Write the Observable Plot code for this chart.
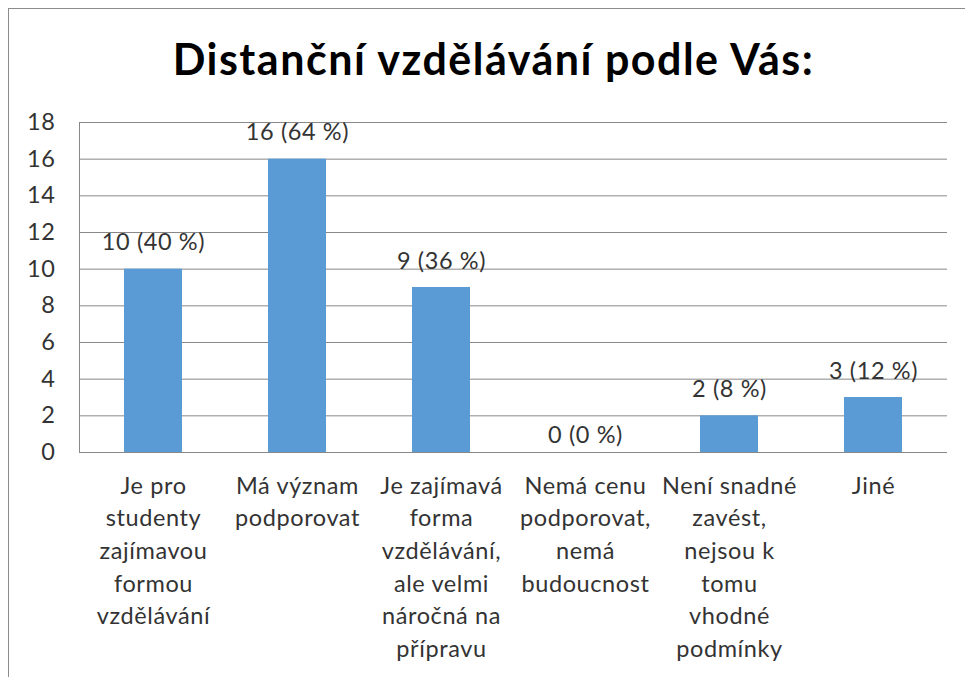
<!DOCTYPE html>
<html>
<head>
<meta charset="utf-8">
<script src="https://cdn.jsdelivr.net/npm/d3@7"></script>
<script src="https://cdn.jsdelivr.net/npm/@observablehq/plot@0.6"></script>
<style>
  body { margin: 0; background: #fff; }
  #wrap { position: relative; width: 965px; height: 677px; overflow: hidden; background: #fff; }
  #frame { position: absolute; left: 8px; top: 8px; width: 2000px; height: 2000px; border: 1.5px solid #8c8c8c; box-sizing: border-box; }
  #title { position: absolute; left: 11px; top: 37px; width: 965px; text-align: center; font: bold 43px Lato, sans-serif; line-height: 43px; letter-spacing: 1.5px; color: #000; }
  #chart { position: absolute; left: 0; top: 0; }
</style>
</head>
<body>
<div id="wrap">
  <div id="frame"></div>
  <div id="chart"></div>
  <div id="title">Distanční vzdělávání podle Vás:</div>
</div>
<script>
const categories = [
  "Je pro studenty zajímavou formou vzdělávání",
  "Má význam podporovat",
  "Je zajímavá forma vzdělávání, ale velmi náročná na přípravu",
  "Nemá cenu podporovat, nemá budoucnost",
  "Není snadné zavést, nejsou k tomu vhodné podmínky",
  "Jiné"
];
const tickLabels = [
  "Je pro\nstudenty\nzajímavou\nformou\nvzdělávání",
  "Má význam\npodporovat",
  "Je zajímavá\nforma\nvzdělávání,\nale velmi\nnáročná na\npřípravu",
  "Nemá cenu\npodporovat,\nnemá\nbudoucnost",
  "Není snadné\nzavést,\nnejsou k\ntomu\nvhodné\npodmínky",
  "Jiné"
];
const counts = [10, 16, 9, 0, 2, 3];
const percents = [40, 64, 36, 0, 8, 12];
const yTicks = [0, 2, 4, 6, 8, 10, 12, 14, 16, 18];

const data = categories.map((c, i) => ({
  category: c,
  count: counts[i],
  label: `${counts[i]} (${percents[i]} %)`
}));

const font = "Lato, sans-serif";
const textColor = "#333333";
const fs = 23.5;

const chart = Plot.plot({
  width: 965,
  height: 677,
  marginLeft: 79,
  marginRight: 18,
  marginTop: 122,
  marginBottom: 225,
  style: { fontFamily: font, background: "transparent", overflow: "visible", letterSpacing: "0.6px" },
  x: { domain: categories, paddingInner: 0.6, paddingOuter: 0.3, label: null },
  y: { domain: [0, 18], label: null },
  marks: [
    Plot.gridY(yTicks, { stroke: "#888888", strokeOpacity: 1, strokeWidth: 1 }),
    Plot.frame({ anchor: "left", stroke: "#888888", strokeWidth: 1 }),
    Plot.barY(data, { x: "category", y: "count", fill: "#5B9BD5" }),
    Plot.ruleY([0], { stroke: "#888888", strokeWidth: 1 }),
    Plot.axisY({
      ticks: yTicks, tickSize: 0, tickPadding: 24, fontSize: fs,
      fill: textColor, label: null
    }),
    Plot.axisX({
      tickSize: 0, tickPadding: 18, fontSize: fs, fill: textColor,
      lineHeight: 1.39, label: null,
      tickFormat: (d) => tickLabels[categories.indexOf(d)]
    }),
    Plot.text(data.filter(d => d.count > 0), {
      x: "category", y: "count", text: "label", dy: -19, lineAnchor: "bottom",
      fontSize: fs, fill: textColor
    }),
    Plot.text(data.filter(d => d.count === 0), {
      x: "category", y: "count", text: "label", dy: -10, lineAnchor: "bottom",
      fontSize: fs, fill: textColor
    })
  ]
});
document.getElementById("chart").appendChild(chart);
</script>
</body>
</html>
